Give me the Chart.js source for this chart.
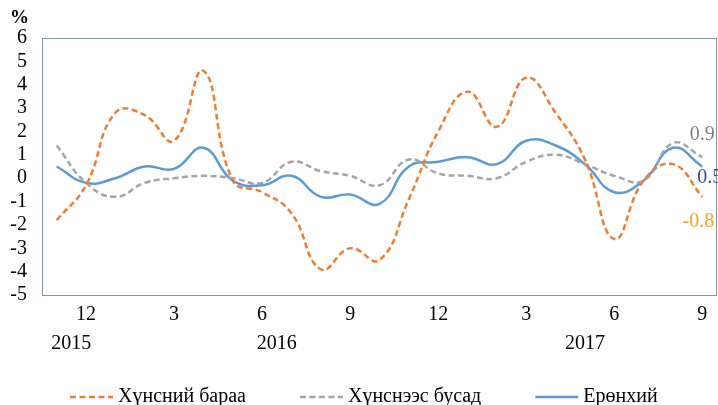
<!DOCTYPE html>
<html><head><meta charset="utf-8">
<script src="https://cdn.jsdelivr.net/npm/chart.js@4.4.0/dist/chart.umd.min.js"></script>
<style>html,body{margin:0;padding:0;background:#fff;} #wrap{width:718px;height:405px;position:relative;}</style>
</head><body><div id="wrap"><canvas id="c" width="718" height="405"></canvas></div>
<script>
const months = [11,12,1,2,3,4,5,6,7,8,9,10,11,12,1,2,3,4,5,6,7,8,9];
const years  = [2015,2015,2016,2016,2016,2016,2016,2016,2016,2016,2016,2016,2016,2016,2017,2017,2017,2017,2017,2017,2017,2017,2017];
const food    = [-1.8,-0.3,2.8,2.7,1.6,4.6,-0.1,-0.6,-1.5,-3.9,-3.0,-3.5,-0.9,2.0,3.7,2.2,4.3,2.8,0.8,-2.6,-0.1,0.6,-0.8];
const nonFood = [1.4,-0.2,-0.8,-0.2,0.0,0.1,0.0,-0.2,0.7,0.3,0.1,-0.3,0.8,0.2,0.1,0.0,0.7,1.0,0.6,0.1,-0.1,1.5,0.9];
const total   = [0.5,-0.2,0.0,0.5,0.4,1.3,-0.1,-0.3,0.1,-0.8,-0.7,-1.1,0.5,0.7,0.9,0.6,1.6,1.4,0.6,-0.6,-0.1,1.3,0.5];
const seriesNames = ['Хүнсний бараа','Хүнснээс бусад','Ерөнхий'];
const yMin = -5, yMax = 6;
const unitLabel = '%';

const FONT = "'Liberation Serif', 'Times New Roman', serif";
const labels = months.map((m,i)=> years[i] + '-' + m);

const frame = {
  id:'frame',
  afterDraw(chart){
    const {ctx, chartArea:a} = chart;
    ctx.save();
    ctx.strokeStyle = '#8093AD'; ctx.lineWidth = 1;
    ctx.strokeRect(Math.round(a.left)+0.5, Math.round(a.top)+0.5, Math.round(a.right-a.left)-1, Math.round(a.bottom-a.top));
    // unit
    ctx.fillStyle = '#000'; ctx.font = 'bold 19px ' + FONT;
    ctx.textAlign='left'; ctx.textBaseline='middle';
    ctx.fillText(unitLabel, 10, 18);
    // year labels
    const xs = chart.scales.x;
    ctx.font = '20px ' + FONT; ctx.textAlign='center';
    const uniq = [...new Set(years)];
    uniq.forEach(y=>{
      const f = years.indexOf(y), l = years.lastIndexOf(y);
      const cx = (xs.getPixelForValue(f)+xs.getPixelForValue(l))/2;
      ctx.fillText(String(y), cx, 344);
    });
    // end labels
    chart.data.datasets.forEach((ds,di)=>{
      const meta = chart.getDatasetMeta(di);
      const pt = meta.data[meta.data.length-1];
      const v = ds.data[ds.data.length-1];
      ctx.fillStyle = ds.endColor; ctx.textAlign = ds.endAlign;
      ctx.fillText(v.toFixed(1), pt.x + ds.endDx, pt.y + ds.endDy);
    });
    // legend
    let x = 70; const ly = 397;
    chart.data.datasets.forEach(ds=>{
      ctx.strokeStyle = ds.borderColor; ctx.lineWidth = 2.5;
      ctx.setLineDash(ds.borderDash || []);
      ctx.beginPath(); ctx.moveTo(x, ly); ctx.lineTo(x+43, ly); ctx.stroke();
      ctx.setLineDash([]);
      ctx.fillStyle = '#000'; ctx.textAlign='left'; ctx.font = '20px ' + FONT;
      ctx.fillText(ds.label, x+48, ly);
      x += 48 + ctx.measureText(ds.label).width + 54;
    });
    ctx.restore();
  }
};

new Chart(document.getElementById('c'), {
  type:'line',
  data:{
    labels,
    datasets:[
      {label:seriesNames[0], data:food, borderColor:'#ED7D31', borderDash:[6,3.5], borderWidth:2.5, endColor:'#F7A21B', endAlign:'center', endDx:-4, endDy:25},
      {label:seriesNames[1], data:nonFood, borderColor:'#A5A5A5', borderDash:[6,3.5], borderWidth:2.5, endColor:'#7F7F7F', endAlign:'center', endDx:0, endDy:-22},
      {label:seriesNames[2], data:total, borderColor:'#5B9BD5', borderWidth:2.5, endColor:'#2F4F8F', endAlign:'left', endDx:-5, endDy:11}
    ]
  },
  options:{
    responsive:false, animation:false,
    layout:{padding:{top:38, right:1, left:0, bottom:0}},
    elements:{point:{radius:0}, line:{tension:0.45, fill:false, borderCapStyle:'butt'}},
    plugins:{legend:{display:false}, tooltip:{enabled:false}},
    scales:{
      x:{
        offset:true,
        grid:{display:false, drawTicks:false}, border:{display:false},
        ticks:{autoSkip:false, maxRotation:0, padding:8, color:'#000', font:{family:FONT, size:20},
          callback:(v,i)=> months[i]%3===0 ? String(months[i]) : ''},
        afterFit:(s)=>{ s.height = 110; }
      },
      y:{
        min:yMin, max:yMax,
        grid:{display:false, drawTicks:false}, border:{display:false},
        ticks:{stepSize:1, autoSkip:false, padding:15, color:'#000', font:{family:FONT, size:20}},
        afterFit:(s)=>{ s.width = 42; }
      }
    }
  },
  plugins:[frame]
});
</script></body></html>
